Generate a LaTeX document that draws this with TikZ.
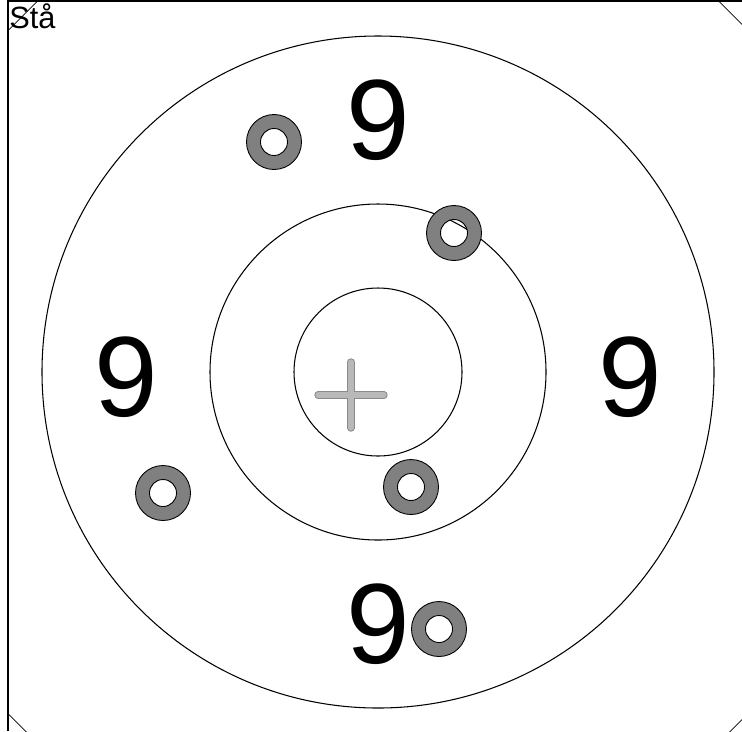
\documentclass[tikz,border=0pt]{standalone}
\usepackage{fontspec}
\setmainfont{Liberation Sans}

\begin{document}
\begin{tikzpicture}[
    x=0.02cm, y=-0.02cm,
    every node/.style={inner sep=0pt},
]

% Colors
\definecolor{shotcolor}{HTML}{808080}
\definecolor{crossfill}{HTML}{B8B8B8}
\definecolor{crossline}{HTML}{8A8A8A}

% Target centre and ring radii
\def\cx{378}
\def\cy{372}
\def\ra{84}
\def\rb{168}
\def\rc{336}
\def\rn{252}

% Shot radii
\def\shotout{27.5}
\def\shotin{13.5}

\useasboundingbox (0,0) rectangle (742,731);
\coordinate (centre) at (\cx, \cy);
\coordinate (aim) at (351, 395);

% Frame and cut corners
\begin{scope}
    \clip (8,1) rectangle (742,731);
    \draw[line width=0.4pt] (\cx-711.5, \cy) -- (\cx, \cy-711.5)
        -- (\cx+711.5, \cy) -- (\cx, \cy+711.5) -- cycle;
\end{scope}
\draw[line width=1pt] (8,731) -- (8,1) -- (742,1);

% Rings
\foreach \r in {\ra, \rb, \rc} {
    \draw[line width=0.6pt] (centre) circle (\r);
}

% Aiming cross
\draw[line width=4.2pt, line cap=round, color=crossline]
    ([xshift=-0.66cm]aim) -- ([xshift=0.66cm]aim)
    ([yshift=-0.66cm]aim) -- ([yshift=0.66cm]aim);
\draw[line width=3pt, line cap=round, color=crossfill]
    ([xshift=-0.66cm]aim) -- ([xshift=0.66cm]aim)
    ([yshift=-0.66cm]aim) -- ([yshift=0.66cm]aim);

% Ring numbers
\node[font=\fontsize{65}{65}\selectfont] (ntop) at (\cx, \cy-\rn) {9};
\node[font=\fontsize{65}{65}\selectfont] (nleft) at (\cx-\rn, \cy+5) {9};
\node[font=\fontsize{65}{65}\selectfont] (nright) at (\cx+\rn, \cy+5) {9};
\node[font=\fontsize{65}{65}\selectfont] (nbottom) at (\cx, \cy+\rn) {9};

% Shots
\foreach \sx/\sy in {274/142, 454/233, 163/493, 411/487, 439/629} {
    \fill[shotcolor, even odd rule] (\sx,\sy) circle (\shotout) (\sx,\sy) circle (\shotin);
    \draw[line width=0.5pt] (\sx,\sy) circle (\shotout) (\sx,\sy) circle (\shotin);
}

% Position label
\node[anchor=base west, font=\fontsize{17.5}{17.5}\selectfont] (stance) at (9,28) {Stå};

\end{tikzpicture}
\end{document}
